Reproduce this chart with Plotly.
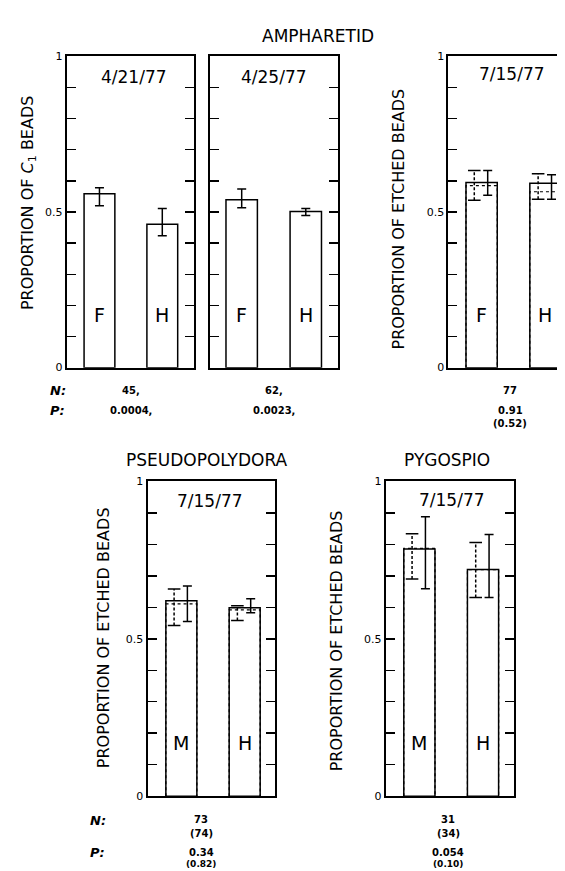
import plotly.graph_objects as go

W, H = 565, 871

# ---------------- data ----------------
groups_top = ["F", "H"]
groups_bot = ["M", "H"]
dates_top = ["4/21/77", "4/25/77", "7/15/77"]
date_bot = "7/15/77"

# Ampharetid 4/21/77
p1_mean = [0.559, 0.461]
p1_hi = [0.578, 0.511]
p1_lo = [0.520, 0.424]
# Ampharetid 4/25/77
p2_mean = [0.539, 0.502]
p2_hi = [0.574, 0.511]
p2_lo = [0.514, 0.489]
# Ampharetid 7/15/77 (solid / dashed)
p3_mean = [0.595, 0.592]
p3_hi = [0.633, 0.620]
p3_lo = [0.554, 0.541]
p3d_mean = [0.585, 0.565]
p3d_hi = [0.633, 0.623]
p3d_lo = [0.538, 0.541]
# Pseudopolydora 7/15/77
p4_mean = [0.621, 0.599]
p4_hi = [0.668, 0.627]
p4_lo = [0.555, 0.583]
p4d_mean = [0.611, 0.592]
p4d_hi = [0.658, 0.605]
p4d_lo = [0.542, 0.558]
# Pygospio 7/15/77
p5_mean = [0.785, 0.720]
p5_hi = [0.8875, 0.831]
p5_lo = [0.659, 0.631]
p5d_mean = [0.7875, 0.720]
p5d_hi = [0.834, 0.806]
p5d_lo = [0.690, 0.631]

n_top = ["45,", "62,", "77"]
p_top = ["0.0004,", "0.0023,", "0.91"]
p_top_paren = ["", "", "(0.52)"]
n_bot = ["73", "31"]
n_bot_paren = ["(74)", "(34)"]
p_bot = ["0.34", "0.054"]
p_bot_paren = ["(0.82)", "(0.10)"]

ytick_vals = [i / 10 for i in range(11)]
ytick_text = ["0", " ", " ", " ", " ", "0.5", " ", " ", " ", " ", "1"]

FONT = "DejaVu Sans"
BAR_W = 0.49
OFF_D, OFF_S = -0.115, 0.095


def px(x):
    return x / W


def py(y):
    return 1 - y / H


fig = go.Figure()

# panel geometry (pixels)
top_y = (43, 359)
bot_y = (474.5, 794)
panels = [
    dict(x=(59, 187), y=top_y, rng=[-0.52, 1.51], labels=True),
    dict(x=(203, 331), y=top_y, rng=[-0.49, 1.5], labels=False),
    dict(x=(442, 565), y=top_y, rng=[-0.52, 1.40], labels=True),
    dict(x=(140, 268), y=bot_y, rng=[-0.535, 1.48], labels=True),
    dict(x=(379, 508), y=bot_y, rng=[-0.53, 1.49], labels=True),
]

layout_axes = {}
for i, p in enumerate(panels):
    k = "" if i == 0 else str(i + 1)
    layout_axes["xaxis" + k] = dict(
        domain=[px(p["x"][0]), min(1.0, px(p["x"][1]))], range=p["rng"],
        anchor="y" + k, showline=True, linewidth=2, linecolor="black", mirror=True,
        showticklabels=False, ticks="", showgrid=False, zeroline=False, fixedrange=True)
    layout_axes["yaxis" + k] = dict(
        domain=[py(p["y"][1]), py(p["y"][0])], range=[0, 1], anchor="x" + k,
        showline=True, linewidth=2, linecolor="black", mirror="ticks",
        ticks="inside", ticklen=9, tickwidth=1.5, tickcolor="black",
        tickvals=ytick_vals, ticktext=ytick_text, showticklabels=p["labels"],
        tickfont=dict(family=FONT, size=11, color="black"),
        showgrid=False, zeroline=False, fixedrange=True)


def add_bars(ax, mean):
    fig.add_trace(go.Bar(x=[0, 1], y=mean, width=BAR_W, xaxis="x" + ax, yaxis="y" + ax,
                         marker=dict(color="white", line=dict(color="black", width=1.5)),
                         showlegend=False, hoverinfo="skip"))


def add_err(ax, mean, hi, lo, off):
    fig.add_trace(go.Scatter(
        x=[i + off for i in range(len(mean))], y=mean, mode="markers",
        marker=dict(size=1, color="rgba(0,0,0,0)"),
        error_y=dict(type="data", symmetric=False,
                     array=[h - m for h, m in zip(hi, mean)],
                     arrayminus=[m - l for m, l in zip(mean, lo)],
                     width=4.5, thickness=1.5, color="black"),
        xaxis="x" + ax, yaxis="y" + ax, showlegend=False, hoverinfo="skip"))


def add_dashed(ax, mean, hi, lo, off):
    # dashed bar outline
    xs, ys = [], []
    for i, m in enumerate(mean):
        xs += [i - BAR_W / 2, i - BAR_W / 2, i + BAR_W / 2, i + BAR_W / 2, None]
        ys += [0, m, m, 0, None]
    fig.add_trace(go.Scatter(x=xs, y=ys, mode="lines",
                             line=dict(color="black", width=1.2, dash="3px,3px"),
                             xaxis="x" + ax, yaxis="y" + ax, showlegend=False, hoverinfo="skip"))
    # dashed error bar
    xs, ys = [], []
    for i, (h, l) in enumerate(zip(hi, lo)):
        xs += [i + off, i + off, None]
        ys += [l, h, None]
    fig.add_trace(go.Scatter(x=xs, y=ys, mode="lines",
                             line=dict(color="black", width=1.5, dash="3px,2px"),
                             xaxis="x" + ax, yaxis="y" + ax, showlegend=False, hoverinfo="skip"))
    cx = [i + off for i in range(len(hi))] * 2
    cy = list(hi) + list(lo)
    fig.add_trace(go.Scatter(x=cx, y=cy, mode="markers",
                             marker=dict(symbol="line-ew-open", size=9, color="black",
                                         line=dict(color="black", width=1.5)),
                             xaxis="x" + ax, yaxis="y" + ax, showlegend=False, hoverinfo="skip"))


# panel 1 & 2
add_bars("", p1_mean)
add_err("", p1_mean, p1_hi, p1_lo, 0)
add_bars("2", p2_mean)
add_err("2", p2_mean, p2_hi, p2_lo, 0)
# panel 3
add_bars("3", p3_mean)
add_dashed("3", p3d_mean, p3d_hi, p3d_lo, OFF_D)
add_err("3", p3_mean, p3_hi, p3_lo, OFF_S)
# panel 4
add_bars("4", p4_mean)
add_dashed("4", p4d_mean, p4d_hi, p4d_lo, OFF_D)
add_err("4", p4_mean, p4_hi, p4_lo, OFF_S)
# panel 5
add_bars("5", p5_mean)
add_dashed("5", p5d_mean, p5d_hi, p5d_lo, OFF_D)
add_err("5", p5_mean, p5_hi, p5_lo, OFF_S)

ann = []


def text(x, y, s, size, **kw):
    d = dict(x=px(x), y=py(y), xref="paper", yref="paper", text=s, showarrow=False,
             font=dict(family=FONT, size=size, color="black"), xanchor="center", yanchor="middle")
    d.update(kw)
    ann.append(d)


# titles
text(311, 22, "AMPHARETID", 17)
text(200, 453, "PSEUDOPOLYDORA", 17)
text(441, 453, "PYGOSPIO", 17)

# dates
text(126, 64, dates_top[0], 17)
text(267, 64, dates_top[1], 17)
text(506, 61, dates_top[2], 17)
text(203, 494, date_bot, 17)
text(446, 493, date_bot, 17)

# y titles
text(20, 192, "PROPORTION OF <i>C</i><sub>1</sub> BEADS", 16, textangle=-90)
text(392, 208, "PROPORTION OF ETCHED BEADS", 16, textangle=-90)
text(96, 633, "PROPORTION OF ETCHED BEADS", 16, textangle=-90)
text(330, 636, "PROPORTION OF ETCHED BEADS", 16, textangle=-90)

# bar letters
for k, grp in [("", groups_top), ("2", groups_top), ("3", groups_top),
               ("4", groups_bot), ("5", groups_bot)]:
    for i, g in enumerate(grp):
        ann.append(dict(x=i, y=0.17, xref="x" + k, yref="y" + k, text=g, showarrow=False,
                        font=dict(family=FONT, size=19, color="black")))

# N / P rows
text(50, 382, "<b><i>N:</i></b>", 13)
text(50, 403, "<b><i>P:</i></b>", 13)
text(90, 819, "<b><i>N:</i></b>", 13)
text(90, 851, "<b><i>P:</i></b>", 13)

for cx, n, p, pp in zip([123, 267, 504], n_top, p_top, p_top_paren):
    text(cx, 382, "<b>" + n + "</b>", 10)
    text(cx, 403, "<b>" + p + "</b>", 10)
    if pp:
        text(cx, 416, "<b>" + pp + "</b>", 10)

for cx, n, npar, p, ppar in zip([194, 442], n_bot, n_bot_paren, p_bot, p_bot_paren):
    text(cx, 818, "<b>" + n + "</b>", 10)
    text(cx, 832, "<b>" + npar + "</b>", 10)
    text(cx, 851, "<b>" + p + "</b>", 10)
    text(cx, 863, "<b>" + ppar + "</b>", 9)

fig.update_layout(
    width=W, height=H, margin=dict(l=0, r=0, t=0, b=0),
    paper_bgcolor="white", plot_bgcolor="white",
    barmode="overlay", showlegend=False, annotations=ann,
    font=dict(family=FONT, color="black"),
    **layout_axes)

fig.write_html("out.html", config={"displayModeBar": False, "staticPlot": True})
